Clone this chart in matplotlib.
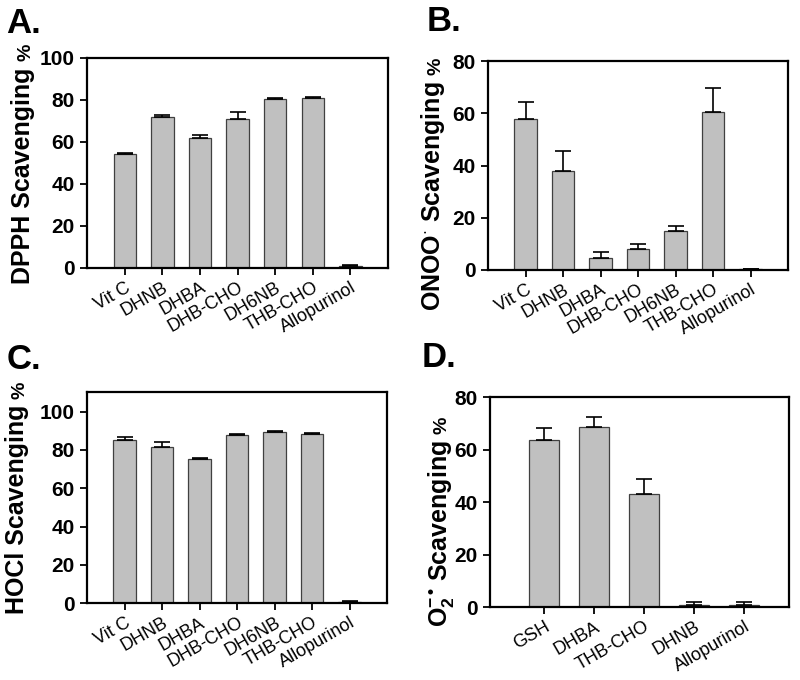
import numpy as np
import matplotlib
matplotlib.use('Agg')
import matplotlib.pyplot as plt

# ---- fonts ----
plt.rcParams['font.family'] = ['Liberation Sans', 'DejaVu Sans']
plt.rcParams['mathtext.fontset'] = 'custom'
plt.rcParams['mathtext.rm'] = 'Liberation Sans:bold'
plt.rcParams['mathtext.it'] = 'Liberation Sans:bold'
plt.rcParams['mathtext.bf'] = 'Liberation Sans:bold'

# ---- data ----
cmpd_abc = ['Vit C', 'DHNB', 'DHBA', 'DHB-CHO', 'DH6NB', 'THB-CHO', 'Allopurinol']
cmpd_d = ['GSH', 'DHBA', 'THB-CHO', 'DHNB', 'Allopurinol']

dpph_mean = [54.0, 72.0, 62.0, 71.0, 80.5, 81.0, 1.0]
dpph_err = [0.5, 0.7, 1.3, 3.0, 0.3, 0.3, 0.3]

onoo_mean = [58.0, 38.0, 4.5, 8.0, 15.0, 60.5, 0.2]
onoo_err = [6.5, 7.5, 2.2, 2.0, 2.0, 9.2, 0.0]

hocl_mean = [85.0, 81.5, 75.0, 88.0, 89.5, 88.5, 0.7]
hocl_err = [1.8, 2.5, 1.0, 0.3, 0.5, 0.3, 0.3]

o2_mean = [63.5, 68.5, 43.0, 1.0, 1.0]
o2_err = [4.8, 4.0, 6.0, 1.0, 1.0]

panels = [
    # letter, axes rect, names, mean, err, ylim, yticks, ylabel, label pos (axes), letter pos
    ('A.', [0.109, 0.606, 0.376, 0.309], cmpd_abc, dpph_mean, dpph_err,
     (0, 100), [0, 20, 40, 60, 80, 100], 'DPPH Scavenging', (-0.19, 0.44), (0.008, 0.99)),
    ('B.', [0.610, 0.603, 0.375, 0.307], cmpd_abc, onoo_mean, onoo_err,
     (0, 80), [0, 20, 40, 60, 80], r'ONOO$^{\cdot}$ Scavenging', (-0.16, 0.354), (0.533, 0.993)),
    ('C.', [0.109, 0.113, 0.375, 0.310], cmpd_abc, hocl_mean, hocl_err,
     (0, 110), [0, 20, 40, 60, 80, 100], 'HOCl Scavenging', (-0.21, 0.445), (0.008, 0.495)),
    ('D.', [0.6125, 0.107, 0.374, 0.309], cmpd_d, o2_mean, o2_err,
     (0, 80), [0, 20, 40, 60, 80], 'O$_2^{-\\,\u2022}$ Scavenging', (-0.145, 0.352), (0.527, 0.498)),
]

fig = plt.figure(figsize=(8, 6.8), dpi=100)

labels = []
for letter, rect, names, mean, err, ylim, yticks, ylab, lp, lpos in panels:
    ax = fig.add_axes(rect)
    x = np.arange(len(names))
    ax.bar(x, mean, width=0.6, color='#c0c0c0', edgecolor='#404040', linewidth=0.9, zorder=2)
    ax.errorbar(x, mean, yerr=[np.zeros(len(err)), err], fmt='none', ecolor='black',
                elinewidth=1.2, capsize=6, capthick=1.2, zorder=3)
    if len(names) == 7:
        ax.set_xlim(-1.0, 7.0)
    else:
        ax.set_xlim(-1.08, 4.9)
    ax.set_ylim(*ylim)
    ax.set_yticks(yticks)
    ax.set_yticklabels([str(t) for t in yticks], fontsize=15, fontweight='bold')
    ax.set_xticks(x)
    ax.set_xticklabels(names, rotation=30, ha='right', rotation_mode='anchor', fontsize=13)
    ax.tick_params(axis='both', direction='out', length=5, width=1.3, color='black')
    ax.tick_params(axis='y', pad=4)
    ax.tick_params(axis='x', pad=3)
    for s in ax.spines.values():
        s.set_linewidth(1.6)
    t = ax.text(lp[0], lp[1], ylab, transform=ax.transAxes, rotation=90,
                ha='center', va='baseline', rotation_mode='anchor',
                fontsize=18, fontweight='bold', clip_on=False)
    labels.append((ax, t, lp))
    fig.text(lpos[0], lpos[1], letter, fontsize=25, fontweight='bold', ha='left', va='top')

# small "%" after each y label
fig.canvas.draw()
W, H = fig.canvas.get_width_height()
for ax, t, lp in labels:
    bb = t.get_window_extent()
    xb = ax.transAxes.transform(lp)[0]
    fig.text(xb / W, (bb.y1 + 6) / H, '%', rotation=90, ha='left', va='baseline',
             rotation_mode='anchor', fontsize=14, fontweight='bold')

fig.savefig('out.png', dpi=100)
